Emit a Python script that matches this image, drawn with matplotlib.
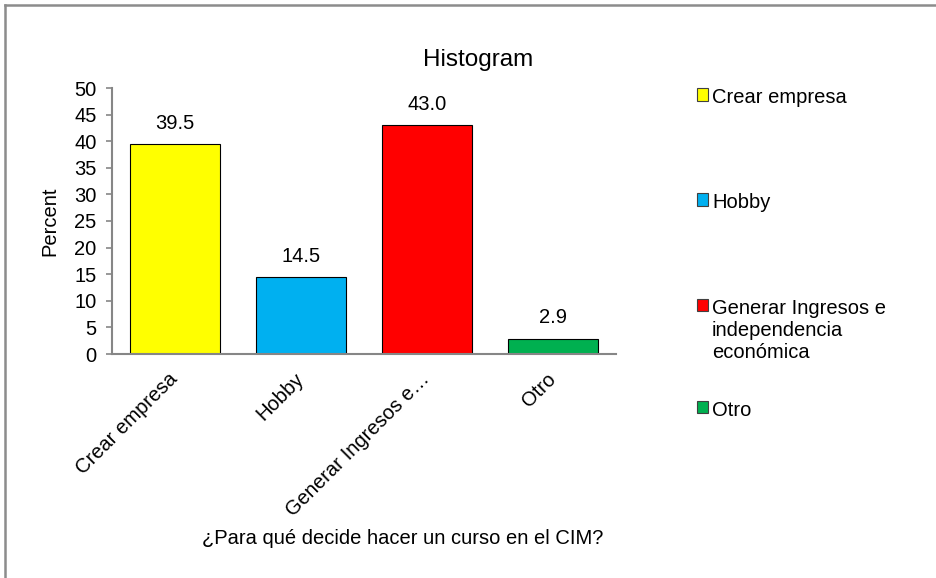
import matplotlib.pyplot as plt
from matplotlib.lines import Line2D
from matplotlib.patches import Patch

plt.rcParams['font.family'] = ['Liberation Sans', 'DejaVu Sans']

# data
tick_labels = ['Crear empresa', 'Hobby', 'Generar Ingresos e…', 'Otro']
legend_labels = ['Crear empresa', 'Hobby',
                 'Generar Ingresos e\nindependencia\neconómica', 'Otro']
percent = [39.5, 14.5, 43.0, 2.9]
colors = ['#FFFF00', '#00B0F0', '#FF0000', '#00B050']

W, H = 937, 578
fs = 14.5
grey = '#868686'

fig = plt.figure(figsize=(W / 100, H / 100), dpi=100)
ax = fig.add_axes([112 / W, 1 - 354 / H, 504 / W, 266 / H])

x = list(range(len(percent)))
bars = ax.bar(x, percent, width=0.72, color=colors, edgecolor='black', linewidth=0.8)
for i, v in enumerate(percent):
    ax.annotate(f'{v:.1f}', (i, v), xytext=(0, 15), textcoords='offset points',
                ha='center', va='center', fontsize=fs)

ax.set_xlim(-0.5, 3.5)
ax.set_ylim(0, 50)
ax.set_yticks(range(0, 51, 5))
ax.set_xticks(x)
ax.set_xticklabels(tick_labels, rotation=45, ha='right', va='center',
                   rotation_mode='anchor', fontsize=fs)
ax.tick_params(axis='x', length=0, pad=16)
ax.tick_params(axis='y', length=4, width=1.2, color=grey, pad=7, labelsize=fs)
for s in ['top', 'right']:
    ax.spines[s].set_visible(False)
for s in ['left', 'bottom']:
    ax.spines[s].set_color(grey)
    ax.spines[s].set_linewidth(1.5)

ax.set_ylabel('Percent', fontsize=fs)
ax.yaxis.set_label_coords(-0.105, 0.5)

fig.text(478 / W, 1 - 60 / H, 'Histogram', ha='center', va='center', fontsize=17.5)
fig.text(403 / W, 1 - 538 / H, '¿Para qué decide hacer un curso en el CIM?',
         ha='center', va='center', fontsize=fs)

# legend entries spread out like the original
entry_y = [98, 203, 330, 410]
for lab, col, yy in zip(legend_labels, colors, entry_y):
    h = Patch(facecolor=col, edgecolor='#404040', linewidth=0.8)
    leg = fig.legend(handles=[h], labels=[lab], loc='center left',
                     bbox_to_anchor=(697 / W, 1 - yy / H), frameon=False, fontsize=fs,
                     handlelength=0.55, handleheight=0.55, handletextpad=0.2,
                     borderpad=0, borderaxespad=0)
    # square sits next to the first line of a wrapped label
    for col_box in leg._legend_handle_box.get_children():
        for row in col_box.get_children():
            row.align = 'top'

# chart frame
fig.add_artist(Line2D([5 / W, 5 / W], [0, 1 - 4.5 / H], transform=fig.transFigure,
                      color='#8c8c8c', linewidth=1.8))
fig.add_artist(Line2D([5 / W, 1], [1 - 4.5 / H, 1 - 4.5 / H], transform=fig.transFigure,
                      color='#8c8c8c', linewidth=1.8))

fig.savefig('out.png', dpi=100)
